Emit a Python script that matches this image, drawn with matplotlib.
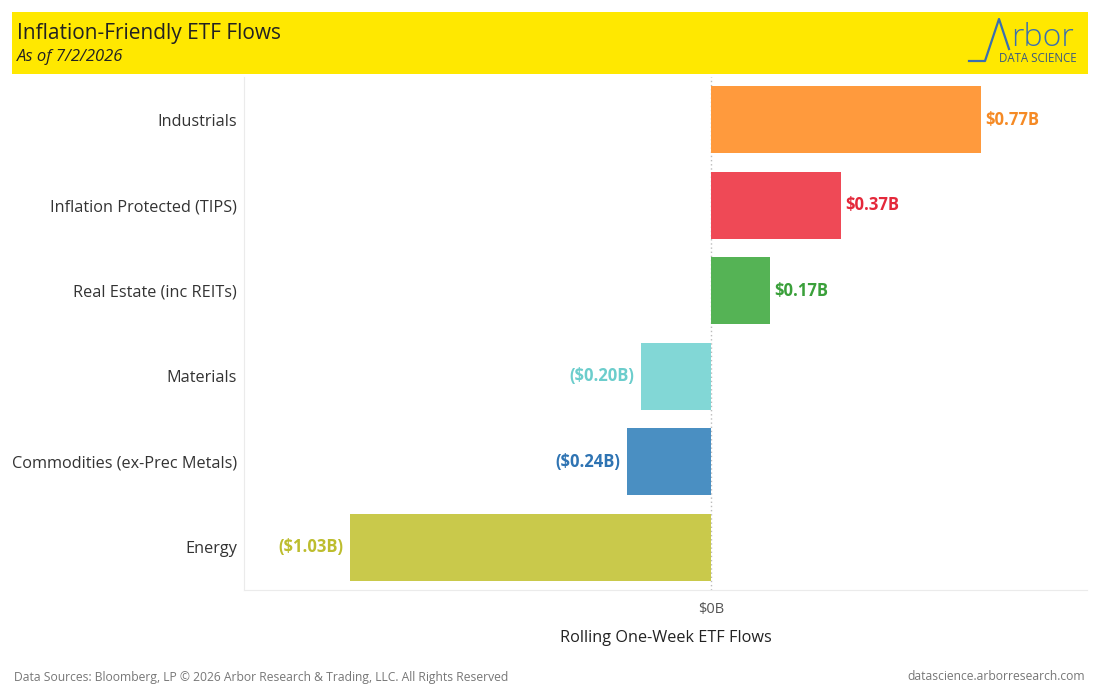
import matplotlib
matplotlib.use("Agg")
import matplotlib.pyplot as plt

plt.rcParams['font.family'] = ['Open Sans', 'DejaVu Sans']

categories = ['Industrials', 'Inflation Protected (TIPS)', 'Real Estate (inc REITs)',
              'Materials', 'Commodities (ex-Prec Metals)', 'Energy']
flows = [0.77, 0.37, 0.17, -0.20, -0.24, -1.03]
bar_colors = ['#FF9A3D', '#EF4956', '#55B355', '#82D7D6', '#4A8FC2', '#C9C94B']
label_colors = ['#F58A25', '#E4283A', '#3AA03A', '#6CCDCC', '#2F74B3', '#BDBD2E']


def fmt(v):
    return f'${v:.2f}B' if v >= 0 else f'(${-v:.2f}B)'


fig = plt.figure(figsize=(11, 7), dpi=100)

# header banner with logo
head = fig.add_axes([12 / 1100, 1 - 74 / 700, 1076 / 1100, 62 / 700])
head.set_xlim(12, 1088)
head.set_ylim(74, 12)
head.set_facecolor('#FFE800')
head.set_xticks([])
head.set_yticks([])
for s in head.spines.values():
    s.set_visible(False)
head.text(17, 33, 'Inflation-Friendly ETF Flows', fontsize=15, color='#222222',
          va='center', ha='left')
head.text(17, 57, 'As of 7/2/2026', fontsize=12, style='italic', color='#222222',
          va='center', ha='left')
head.plot([969, 985, 999, 1009], [61, 61, 19, 49], color='#3A6FB0', lw=1.6)
head.text(1011, 46, 'rbor', fontsize=23, color='#3A6FB0', va='baseline', ha='left',
          fontweight='light')
head.text(1077, 59, 'DATA SCIENCE', fontsize=8.3, color='#3A5A80', va='center', ha='right')

ax = fig.add_axes([244 / 1100, 1 - 590 / 700, 843 / 1100, 513 / 700])
y = list(range(len(categories)))
ax.barh(y, flows, height=0.78, color=bar_colors, zorder=2)
ax.set_xlim(-1.332, 1.073)
ax.set_ylim(len(categories) - 0.5, -0.5)

for yi, v, c in zip(y, flows, label_colors):
    off = 0.012 if v >= 0 else -0.018
    ax.text(v + off, yi, fmt(v), color=c, fontsize=12, fontweight='bold',
            va='center', ha='left' if v >= 0 else 'right')

ax.axvline(0, color='#BBBBBB', lw=1, ls=(0, (1, 2)), zorder=1)
ax.set_yticks(y)
ax.set_yticklabels(categories, fontsize=11.7, color='#333333')
ax.set_xticks([0])
ax.set_xticklabels(['$0B'], fontsize=10.5, color='#555555')
ax.tick_params(length=0)
ax.tick_params(axis='y', pad=5)
ax.tick_params(axis='x', pad=9)
ax.set_xlabel('Rolling One-Week ETF Flows', fontsize=11.7, color='#222222', labelpad=9)
for s in ['top', 'right']:
    ax.spines[s].set_visible(False)
ax.spines['left'].set_color('#EBEBEB')
ax.spines['bottom'].set_color('#EBEBEB')

fig.text(14 / 1100, 1 - 677 / 700,
         'Data Sources: Bloomberg, LP \u00a9 2026 Arbor Research & Trading, LLC. All Rights Reserved',
         fontsize=8.7, color='#777777', va='center', ha='left')
fig.text(1085 / 1100, 1 - 677 / 700, 'datascience.arborresearch.com', fontsize=8.7,
         color='#777777', va='center', ha='right')

fig.savefig('out.png', dpi=100)
